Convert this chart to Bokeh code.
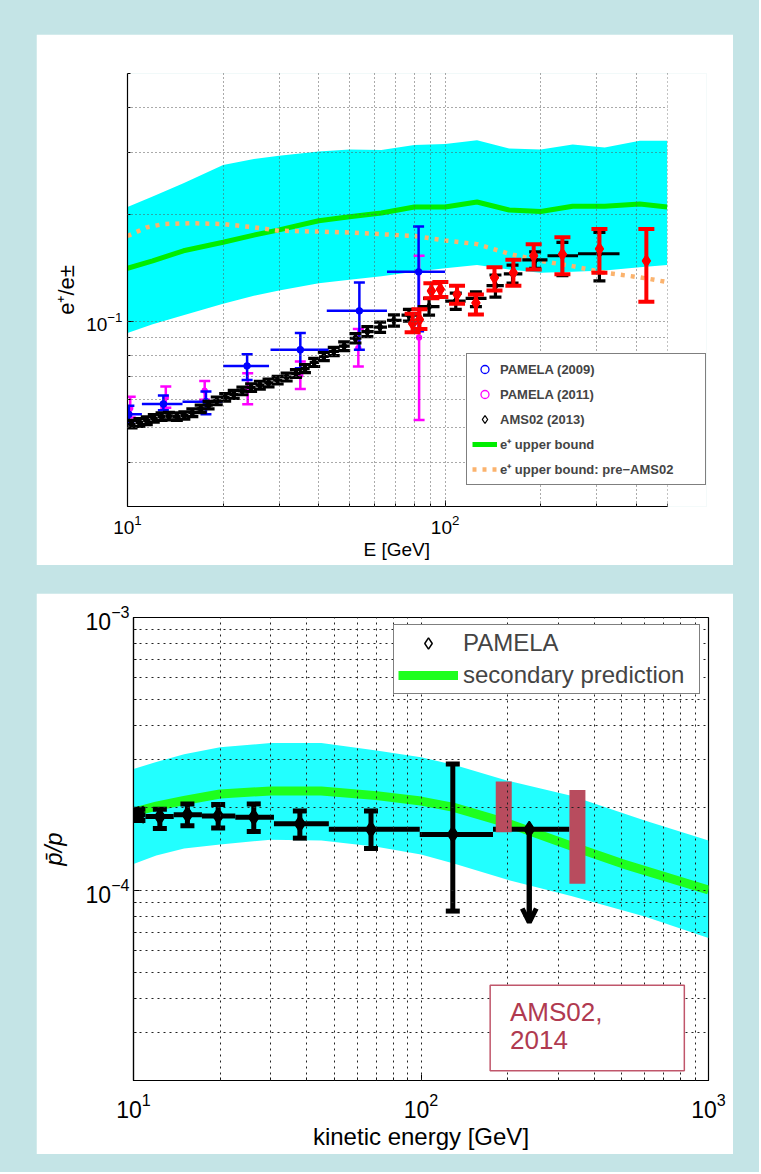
import math
from bokeh.plotting import figure
from bokeh.models import (ColumnDataSource, FixedTicker, Legend, LegendItem, Range1d,
                          BoxAnnotation, Label, Arrow, OpenHead, Spacer, Title)
from bokeh.layouts import column, row
from bokeh.embed import file_html
from bokeh.resources import INLINE

FONT = "Liberation Sans"
BG = "#C4E4E6"

# ---------------- top panel data (e+/e± vs E) ----------------
band_E = [10, 12, 15, 20, 25, 30, 40, 50, 63, 80, 100, 126, 159, 200, 252, 318, 410, 500]
band_hi = [0.210, 0.225, 0.245, 0.276, 0.287, 0.293, 0.301, 0.305, 0.304, 0.314, 0.316, 0.324,
           0.307, 0.305, 0.315, 0.309, 0.323, 0.323]
band_lo = [0.0926, 0.098, 0.104, 0.112, 0.118, 0.122, 0.128, 0.131, 0.134, 0.138, 0.141, 0.144,
           0.140, 0.137, 0.138, 0.139, 0.142, 0.144]
bound_Y = [0.141, 0.148, 0.158, 0.167, 0.175, 0.181, 0.192, 0.197, 0.202, 0.210, 0.210, 0.217,
           0.206, 0.204, 0.211, 0.211, 0.214, 0.210]
pre_E = [10, 11.5, 13, 15.8, 20, 25, 30, 40, 50, 63, 80, 100, 126, 159, 200, 252, 318, 410, 500]
pre_Y = [0.174, 0.184, 0.188, 0.189, 0.188, 0.184, 0.180, 0.179, 0.178, 0.176, 0.174, 0.169,
         0.165, 0.155, 0.148, 0.143, 0.137, 0.133, 0.129]

pam09_E = [10.1, 12.97, 17.66, 23.8, 35.0, 53.7, 82.5]
pam09_Y = [0.0546, 0.0584, 0.0593, 0.0748, 0.0831, 0.107, 0.1378]
pam09_lo = [0.0520, 0.0561, 0.0546, 0.0683, 0.0737, 0.0831, 0.0937]
pam09_hi = [0.0577, 0.0617, 0.0633, 0.0807, 0.0926, 0.1285, 0.185]
pam09_xlo = [10.0, 11.1, 14.9, 20.0, 28.2, 42.4, 65.6]
pam09_xhi = [11.1, 14.9, 19.9, 27.9, 43.0, 65.6, 100.0]

pam11_E = [10.2, 13.2, 17.5, 23.9, 35.0, 53.3, 82.8]
pam11_Y = [0.0568, 0.0610, 0.0637, 0.0645, 0.0705, 0.0840, 0.0900]
pam11_lo = [0.0535, 0.0570, 0.0600, 0.0583, 0.0644, 0.0745, 0.0526]
pam11_hi = [0.0612, 0.0654, 0.0678, 0.0713, 0.0770, 0.0950, 0.153]

ams_E = [10.3, 10.9, 11.5, 12.1, 12.8, 13.5, 14.3, 15.1, 16.0, 17.0, 18.0, 19.1, 20.3, 21.6,
         23.0, 24.5, 26.1, 27.8, 29.7, 31.7, 33.9, 36.2, 38.7, 41.5, 44.6, 48.1, 52.2, 56.9,
         62.4, 69.0, 76.9, 89.0, 108.0, 125.0, 144.0, 163.0, 192.0, 234.0, 306.0]
ams_Y = [0.0512, 0.0518, 0.0524, 0.0532, 0.0538, 0.0540, 0.0538, 0.0542, 0.0552, 0.0566,
         0.0580, 0.0596, 0.0610, 0.0622, 0.0636, 0.0650, 0.0660, 0.0670, 0.0682, 0.0696,
         0.0712, 0.0735, 0.0765, 0.0795, 0.0822, 0.0850, 0.0895, 0.0935, 0.0962, 0.1005,
         0.1040, 0.1100, 0.1140, 0.1160, 0.1260, 0.1360, 0.1490, 0.1530, 0.1550]
ams_lo = [0.0500, 0.0505, 0.0511, 0.0519, 0.0525, 0.0527, 0.0525, 0.0529, 0.0538, 0.0552,
          0.0566, 0.0581, 0.0595, 0.0606, 0.0620, 0.0634, 0.0643, 0.0653, 0.0665, 0.0678,
          0.0694, 0.0716, 0.0745, 0.0774, 0.0800, 0.0826, 0.0868, 0.0905, 0.0930, 0.0968,
          0.1000, 0.1040, 0.1080, 0.1100, 0.1170, 0.1280, 0.1410, 0.1345, 0.1300]
ams_hi = [0.0525, 0.0531, 0.0537, 0.0545, 0.0551, 0.0553, 0.0551, 0.0555, 0.0566, 0.0580,
          0.0594, 0.0611, 0.0625, 0.0638, 0.0652, 0.0666, 0.0677, 0.0687, 0.0699, 0.0714,
          0.0730, 0.0754, 0.0785, 0.0816, 0.0844, 0.0874, 0.0922, 0.0965, 0.0994, 0.1042,
          0.1080, 0.1160, 0.1200, 0.1210, 0.1350, 0.1440, 0.1570, 0.1670, 0.1780]
ams_xlo = [10.0, 10.6, 11.2, 11.8, 12.45, 13.15, 13.9, 14.7, 15.55, 16.5, 17.5, 18.55, 19.7,
           20.95, 22.3, 23.75, 25.3, 26.95, 28.75, 30.7, 32.8, 35.05, 37.45, 40.1, 43.0, 46.3,
           50.1, 54.5, 59.6, 65.6, 72.9, 82.0, 100.0, 116.0, 135.0, 153.0, 175.0, 210.0, 262.0]
ams_xhi = [10.6, 11.2, 11.8, 12.45, 13.15, 13.9, 14.7, 15.55, 16.5, 17.5, 18.55, 19.7, 20.95,
           22.3, 23.75, 25.3, 26.95, 28.75, 30.7, 32.8, 35.05, 37.45, 40.1, 43.0, 46.3, 50.1,
           54.5, 59.6, 65.6, 72.9, 82.0, 96.0, 116.0, 135.0, 153.0, 175.0, 210.0, 262.0, 354.0]

red_E = [79, 83, 90.5, 96.6, 109, 125, 143, 164, 190, 234, 306, 430]
red_Y = [0.0985, 0.101, 0.1217, 0.123, 0.119, 0.1127, 0.1327, 0.137, 0.153, 0.1545, 0.160, 0.148]
red_lo = [0.093, 0.095, 0.116, 0.117, 0.112, 0.1045, 0.122, 0.126, 0.140, 0.1357, 0.137, 0.1135]
red_hi = [0.105, 0.108, 0.128, 0.129, 0.126, 0.119, 0.142, 0.149, 0.165, 0.1725, 0.182, 0.182]

top_xmajor = [10, 100]
top_xminor = [20, 30, 40, 50, 60, 70, 80, 90, 200, 300, 400, 500]
top_ymajor = [0.1]
top_yminor = [0.03, 0.04, 0.05, 0.06, 0.07, 0.08, 0.09, 0.2, 0.3, 0.4, 0.5]
top_x_axis_end = 500      # axis drawn from 10 to 500
top_x_view_end = 665      # frame extends further right so the legend can overhang

# ---------------- bottom panel data (pbar/p) ----------------
sec_E = [10, 12, 15, 20, 30, 45, 70, 100, 130, 200, 333, 500, 1000]
sec_Y = [1.93e-4, 2.03e-4, 2.13e-4, 2.25e-4, 2.31e-4, 2.31e-4, 2.22e-4, 2.12e-4, 2.01e-4,
         1.76e-4, 1.45e-4, 1.25e-4, 1.00e-4]
sband_E = [10, 12, 15, 20, 30, 45, 70, 100, 130, 200, 333, 600, 1000]
sband_hi = [2.78e-4, 2.95e-4, 3.15e-4, 3.34e-4, 3.46e-4, 3.46e-4, 3.25e-4, 3.07e-4, 2.88e-4,
            2.52e-4, 2.22e-4, 1.80e-4, 1.52e-4]
sband_lo = [1.245e-4, 1.34e-4, 1.42e-4, 1.47e-4, 1.53e-4, 1.52e-4, 1.44e-4, 1.35e-4, 1.25e-4,
            1.09e-4, 0.95e-4, 0.80e-4, 0.667e-4]

pam_E = [10.4, 12.35, 15.4, 19.7, 26.2, 37.9, 67.0, 129.0, 238.0]
pam_Y = [1.89e-4, 1.86e-4, 1.89e-4, 1.87e-4, 1.85e-4, 1.75e-4, 1.67e-4, 1.60e-4, 1.67e-4]
pam_lo = [1.80e-4, 1.68e-4, 1.72e-4, 1.69e-4, 1.64e-4, 1.55e-4, 1.42e-4, 0.837e-4, 0.76e-4]
pam_hi = [1.98e-4, 1.98e-4, 2.07e-4, 2.06e-4, 2.07e-4, 1.95e-4, 1.95e-4, 2.90e-4, 1.67e-4]
pam_xlo = [10.0, 11.0, 13.8, 17.3, 22.6, 30.8, 47.8, 99.0, 178.0]
pam_xhi = [11.0, 13.8, 17.3, 22.6, 30.8, 47.8, 99.0, 178.0, 328.0]
pam_limit = [False, False, False, False, False, False, False, False, True]

ams14_E = [194.0, 350.0]
ams14_lo = [1.63e-4, 1.055e-4]
ams14_hi = [2.50e-4, 2.33e-4]

bot_xmajor = [10, 100, 1000]
bot_xminor = [20, 30, 40, 50, 60, 70, 80, 90, 200, 300, 400, 500, 600, 700, 800, 900]
bot_ymajor = [1e-4, 1e-3]
bot_yminor = [2e-5, 3e-5, 4e-5, 5e-5, 6e-5, 7e-5, 8e-5, 9e-5,
              2e-4, 3e-4, 4e-4, 5e-4, 6e-4, 7e-4, 8e-4, 9e-4]

# AMS02 note box (data coordinates)
note_box = dict(left=174, right=824, bottom=2.17e-5, top=4.47e-5)
note_lines = [("AMS02,", 204, 4.04e-5), ("2014", 204, 3.05e-5)]


def style_axes(p, xmaj, xmin, ymaj, ymin, tick_size, label_size, dash, gcolor):
    p.xaxis.ticker = FixedTicker(ticks=xmaj, minor_ticks=xmin)
    p.yaxis.ticker = FixedTicker(ticks=ymaj, minor_ticks=ymin)
    for ax in (p.xaxis, p.yaxis):
        ax.axis_line_color = "black"
        ax.axis_line_width = 1.2
        ax.major_tick_in = 6
        ax.major_tick_out = 0
        ax.minor_tick_in = 3
        ax.minor_tick_out = 0
        ax.major_tick_line_color = "black"
        ax.minor_tick_line_color = "black"
        ax.major_label_text_font = FONT
        ax.major_label_text_font_size = tick_size
        ax.major_label_text_color = "black"
        ax.axis_label_text_font = FONT
        ax.axis_label_text_font_size = label_size
        ax.axis_label_text_font_style = "normal"
        ax.axis_label_text_color = "black"
    for g in (p.xgrid, p.ygrid):
        g.grid_line_color = gcolor
        g.grid_line_dash = dash
        g.grid_line_width = 1
        g.minor_grid_line_color = gcolor
        g.minor_grid_line_dash = dash
        g.minor_grid_line_width = 1
        g.level = "guide"


def errbars(p, x, y, lo, hi, color, lw, cap, marker, msize, xlo=None, xhi=None):
    src = ColumnDataSource(dict(x=x, y=y, lo=lo, hi=hi))
    # open marker first (used as the legend glyph), hidden under the filled one
    proxy = p.scatter(x="x", y="y", source=src, marker=marker, size=msize + 1,
                      line_color=color, fill_color=None, line_width=1.3)
    p.segment(x0="x", y0="lo", x1="x", y1="hi", source=src, line_color=color, line_width=lw)
    if xlo is not None:
        xs = ColumnDataSource(dict(y=y, a=xlo, b=xhi))
        p.segment(x0="a", y0="y", x1="b", y1="y", source=xs, line_color=color, line_width=lw)
    p.scatter(x="x", y="lo", source=src, marker="dash", size=cap, line_color=color, line_width=lw)
    p.scatter(x="x", y="hi", source=src, marker="dash", size=cap, line_color=color, line_width=lw)
    p.scatter(x="x", y="y", source=src, marker=marker, size=msize, line_color=color,
              fill_color=color, line_width=1.5)
    return proxy


# ================= TOP FIGURE =================
p1 = figure(width=697, height=531, x_axis_type="log", y_axis_type="log",
            x_range=Range1d(10, top_x_view_end), y_range=Range1d(0.03, 0.5),
            output_backend="svg", toolbar_location=None,
            min_border_left=91, min_border_right=27, min_border_top=39, min_border_bottom=59)
p1.outline_line_color = None
p1.background_fill_color = "white"
p1.border_fill_color = "white"
style_axes(p1, top_xmajor, top_xminor, top_ymajor, top_yminor, "19px", "19px", "1 3", "#555555")
p1.xaxis.bounds = (10, top_x_axis_end)
p1.yaxis.axis_label = "e⁺/e±"
p1.yaxis.axis_label_text_font_size = "22px"
p1.xaxis.major_label_standoff = 8
p1.yaxis.major_label_standoff = 5
p1.yaxis.axis_label_standoff = 4
# x label placed as a title below, centred under the 10..500 part of the axis
p1.add_layout(Title(text="E [GeV]", align="left", offset=236, text_font=FONT,
                    text_font_size="19px", text_font_style="normal", text_color="black",
                    standoff=0), "below")

p1.varea(x=band_E, y1=band_lo, y2=band_hi, fill_color="#00FFFF")
r_green = p1.line(x=band_E, y=bound_Y, line_color="#00EE00", line_width=5)
r_orange = p1.line(x=pre_E, y=pre_Y, line_color="#FBB36E", line_width=4.5, line_dash="4 6")

lg_m = errbars(p1, pam11_E, pam11_Y, pam11_lo, pam11_hi, "#FF00FF", 2.5, 11, "circle", 4)
lg_b = errbars(p1, pam09_E, pam09_Y, pam09_lo, pam09_hi, "#0000FF", 2.5, 11, "circle", 5,
               pam09_xlo, pam09_xhi)
lg_k = errbars(p1, ams_E, ams_Y, ams_lo, ams_hi, "black", 3.2, 12, "diamond", 7, ams_xlo, ams_xhi)
errbars(p1, red_E, red_Y, red_lo, red_hi, "#FF0000", 4, 16, "diamond", 11)

# white cover for the part of the frame right of the axis end (legend overhang area)
p1.add_layout(BoxAnnotation(left=top_x_axis_end * 1.004, fill_color="white", fill_alpha=1.0,
                            line_alpha=0.0))

leg1 = Legend(items=[LegendItem(label="PAMELA (2009)", renderers=[lg_b]),
                     LegendItem(label="PAMELA (2011)", renderers=[lg_m]),
                     LegendItem(label="AMS02 (2013)", renderers=[lg_k]),
                     LegendItem(label="e⁺ upper bound", renderers=[r_green]),
                     LegendItem(label="e⁺ upper bound: pre−AMS02", renderers=[r_orange])],
              location=(339, 21), margin=0, padding=5, spacing=5,
              glyph_width=25, glyph_height=20, label_height=20, label_width=200,
              label_standoff=3, label_text_font=FONT, label_text_font_size="13px",
              label_text_font_style="bold", border_line_color="black", border_line_width=1.5,
              background_fill_color="white", background_fill_alpha=1.0)
p1.add_layout(leg1)

# ================= BOTTOM FIGURE =================
p2 = figure(width=697, height=561, x_axis_type="log", y_axis_type="log",
            x_range=Range1d(10, 1000), y_range=Range1d(2e-5, 1e-3),
            output_backend="svg", toolbar_location=None,
            min_border_left=97, min_border_right=25, min_border_top=24, min_border_bottom=74)
p2.outline_line_color = "black"
p2.outline_line_width = 1.2
p2.background_fill_color = "white"
p2.border_fill_color = "white"
style_axes(p2, bot_xmajor, bot_xminor, bot_ymajor, bot_yminor, "23px", "24px", "2 4", "#222222")
p2.xaxis.axis_label = "kinetic energy [GeV]"
p2.yaxis.axis_label = "p̄/p"
p2.yaxis.axis_label_text_font_style = "italic"
p2.xaxis.major_label_standoff = 12
p2.yaxis.major_label_standoff = 4
p2.xaxis.axis_label_standoff = 2
p2.yaxis.axis_label_standoff = 16

p2.varea(x=sband_E, y1=sband_lo, y2=sband_hi, fill_color="#22FFFF")
r_sec = p2.line(x=sec_E, y=sec_Y, line_color="#1EFF1E", line_width=9)

pam_src = ColumnDataSource(dict(x=pam_E, y=pam_Y, lo=pam_lo, hi=pam_hi, a=pam_xlo, b=pam_xhi))
lg_p = p2.scatter(x="x", y="y", source=pam_src, marker="diamond", size=16, fill_color=None,
                  line_color="black", line_width=1.5)
p2.segment(x0="a", y0="y", x1="b", y1="y", source=pam_src, line_color="black", line_width=5)
p2.segment(x0="x", y0="lo", x1="x", y1="hi", source=pam_src, line_color="black", line_width=5)
cap_x = [e for e, l in zip(pam_E, pam_limit) if not l]
cap_lo = [v for v, l in zip(pam_lo, pam_limit) if not l]
cap_hi = [v for v, l in zip(pam_hi, pam_limit) if not l]
p2.scatter(x=cap_x, y=cap_lo, marker="dash", size=14, line_color="black", line_width=5)
p2.scatter(x=cap_x, y=cap_hi, marker="dash", size=14, line_color="black", line_width=5)
p2.scatter(x="x", y="y", source=pam_src, marker="diamond", size=15, color="black")
p2.scatter(x=pam_E[:1], y=pam_Y[:1], marker="triangle", angle=math.pi / 2, size=17, color="black")
lim_src = ColumnDataSource(dict(
    x=[e for e, l in zip(pam_E, pam_limit) if l],
    y0=[v for v, l in zip(pam_Y, pam_limit) if l],
    y1=[v for v, l in zip(pam_lo, pam_limit) if l]))
p2.add_layout(Arrow(end=OpenHead(size=14, line_width=5, line_color="black"),
                    x_start="x", y_start="y0", x_end="x", y_end="y1", source=lim_src,
                    line_width=5, line_color="black"))

p2.segment(x0=ams14_E, y0=ams14_lo, x1=ams14_E, y1=ams14_hi, line_color="#B84C5E",
           line_width=16, line_cap="butt")

p2.add_layout(BoxAnnotation(fill_color="white", fill_alpha=1.0, line_color="#C0566B",
                            line_alpha=1.0, line_width=1.5, **note_box))
for txt, lx, ly in note_lines:
    p2.add_layout(Label(x=lx, y=ly, text=txt, text_font=FONT, text_font_size="26px",
                        text_color="#B03A50", text_baseline="top", text_align="left"))

leg2 = Legend(items=[LegendItem(label="PAMELA", renderers=[lg_p]),
                     LegendItem(label="secondary prediction", renderers=[r_sec])],
              location=(260, 386), margin=0, padding=4, spacing=4,
              glyph_width=60, glyph_height=28, label_height=28, label_width=232,
              label_standoff=5, label_text_font=FONT, label_text_font_size="24px",
              border_line_color="black", border_line_width=1.2,
              background_fill_color="white", background_fill_alpha=1.0)
p2.add_layout(leg2)

# ================= PAGE =================
top_row = row(Spacer(width=36, height=531), p1, Spacer(width=26, height=531))
bot_row = row(Spacer(width=36, height=561), p2, Spacer(width=26, height=561))
page = column(Spacer(width=759, height=34), top_row, Spacer(width=759, height=28), bot_row,
              Spacer(width=759, height=18), styles={"background-color": BG})

open("out.html", "w").write(file_html(page, INLINE))
